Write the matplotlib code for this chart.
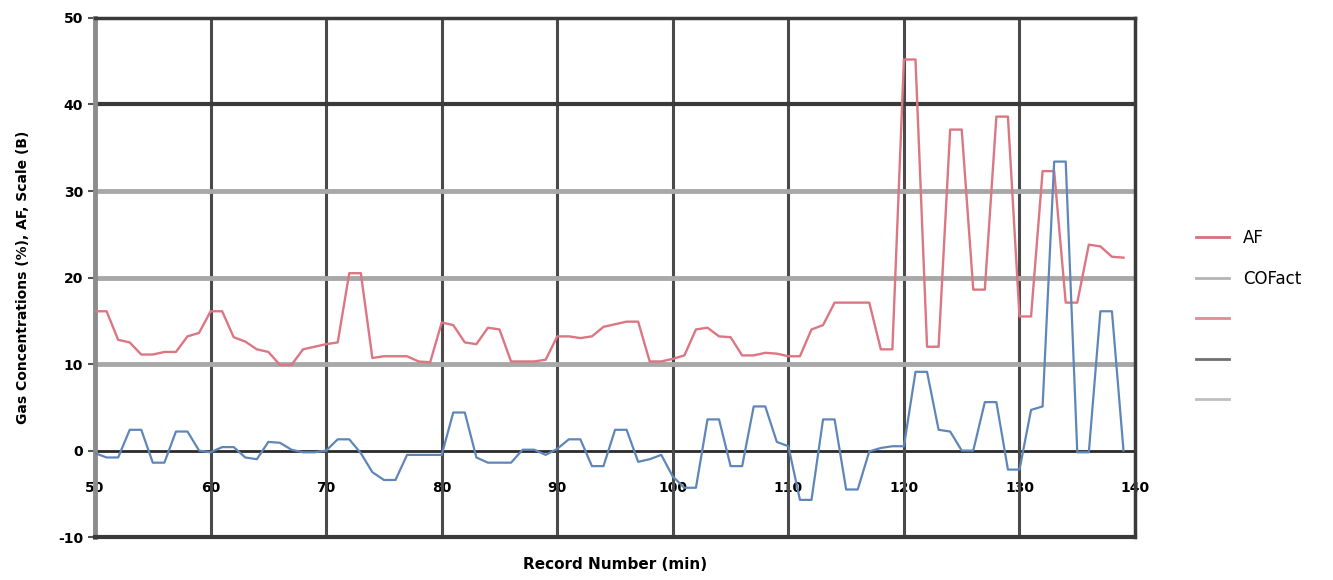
import matplotlib
matplotlib.use("Agg")
import matplotlib.pyplot as plt
from matplotlib.lines import Line2D
import numpy as np

plt.rcParams["axes.unicode_minus"] = False

record = list(range(50, 140))

af = [16.1, 16.1, 12.8, 12.5, 11.1, 11.1, 11.4, 11.4, 13.2, 13.6,
      16.1, 16.1, 13.1, 12.6, 11.7, 11.4, 9.9, 9.9, 11.7, 12.0,
      12.3, 12.5, 20.5, 20.5, 10.7, 10.9, 10.9, 10.9, 10.3, 10.2,
      14.8, 14.5, 12.5, 12.3, 14.2, 14.0, 10.3, 10.3, 10.3, 10.5,
      13.2, 13.2, 13.0, 13.2, 14.3, 14.6, 14.9, 14.9, 10.3, 10.3,
      10.6, 11.0, 14.0, 14.2, 13.2, 13.1, 11.0, 11.0, 11.3, 11.2,
      10.9, 10.9, 14.0, 14.5, 17.1, 17.1, 17.1, 17.1, 11.7, 11.7,
      45.2, 45.2, 12.0, 12.0, 37.1, 37.1, 18.6, 18.6, 38.6, 38.6,
      15.5, 15.5, 32.3, 32.3, 17.1, 17.1, 23.8, 23.6, 22.4, 22.3]

cofact = [-0.3, -0.8, -0.8, 2.4, 2.4, -1.4, -1.4, 2.2, 2.2, 0.0,
          -0.2, 0.4, 0.4, -0.8, -1.0, 1.0, 0.9, 0.1, -0.2, -0.2,
          0.0, 1.3, 1.3, -0.3, -2.5, -3.4, -3.4, -0.5, -0.5, -0.5,
          -0.5, 4.4, 4.4, -0.8, -1.4, -1.4, -1.4, 0.1, 0.1, -0.5,
          0.2, 1.3, 1.3, -1.8, -1.8, 2.4, 2.4, -1.3, -1.0, -0.5,
          -3.0, -4.3, -4.3, 3.6, 3.6, -1.8, -1.8, 5.1, 5.1, 1.0,
          0.5, -5.7, -5.7, 3.6, 3.6, -4.5, -4.5, -0.1, 0.3, 0.5,
          0.5, 9.1, 9.1, 2.4, 2.2, 0.0, 0.0, 5.6, 5.6, -2.2,
          -2.2, 4.7, 5.1, 33.4, 33.4, -0.2, -0.2, 16.1, 16.1, 0.0]

x_ticks = list(range(50, 141, 10))
y_ticks = list(range(-10, 51, 10))

legend_labels = ["AF", "COFact", " ", " ", " "]
legend_colors = ["#d9707c", "#b4b4b4", "#e58a94", "#707070", "#c0c0c0"]

red = "#dc7682"
blue = "#5f86b8"

fig = plt.figure(figsize=(13.33, 5.8), dpi=100)
ax = fig.add_axes([0.0713, 0.074, 0.7802, 0.895])

ax.set_xlim(50, 140)
ax.set_ylim(-10, 50)

# gridlines
for xv in x_ticks[1:-1]:
    ax.axvline(xv, color="#4a4a4a", lw=2.2, zorder=1)
for yv in y_ticks:
    if yv in (10, 20, 30):
        ax.axhline(yv, color="#a8a8a8", lw=3.5, zorder=1)
    elif yv == 40:
        ax.axhline(yv, color="#3a3a3a", lw=3.0, zorder=1)

ax.plot(record, af, color=red, lw=1.7, zorder=3)
ax.plot(record, cofact, color=blue, lw=1.6, zorder=3)

ax.set_xticks(x_ticks)
ax.set_yticks(y_ticks)
ax.tick_params(axis="x", direction="in", length=4, labelbottom=False, color="#555555")
ax.tick_params(axis="y", direction="out", length=5, width=1.5, color="#555555")
for lab in ax.get_yticklabels():
    lab.set_fontweight("bold")
    lab.set_fontsize(10)

ax.spines["left"].set_color("#8c8c8c")
ax.spines["left"].set_linewidth(3.5)
ax.spines["right"].set_color("#3a3a3a")
ax.spines["right"].set_linewidth(2.5)
ax.spines["top"].set_color("#3a3a3a")
ax.spines["top"].set_linewidth(2.5)
ax.spines["bottom"].set_color("#3a3a3a")
ax.spines["bottom"].set_linewidth(3)

# x-axis crossing at zero
sec = ax.secondary_xaxis(10 / 60)
sec.set_xticks(x_ticks)
sec.tick_params(axis="x", length=0, pad=22)
sec.spines["bottom"].set_color("#2a2a2a")
sec.spines["bottom"].set_linewidth(2.0)
for lab in sec.get_xticklabels():
    lab.set_fontweight("bold")
    lab.set_fontsize(10)

ax.set_xlabel("Record Number (min)", fontsize=11, fontweight="bold", labelpad=14)
ax.set_ylabel("Gas Concentrations (%), AF, Scale (B)", fontsize=10, fontweight="bold", labelpad=20)

handles = [Line2D([0], [0], color=c, lw=2) for c in legend_colors]
leg = fig.legend(handles, legend_labels, loc="center left",
                 bbox_to_anchor=(0.886, 0.45), frameon=False,
                 fontsize=12, handlelength=2.0, labelspacing=1.35,
                 handletextpad=0.8)

fig.savefig("out.png", dpi=100)
